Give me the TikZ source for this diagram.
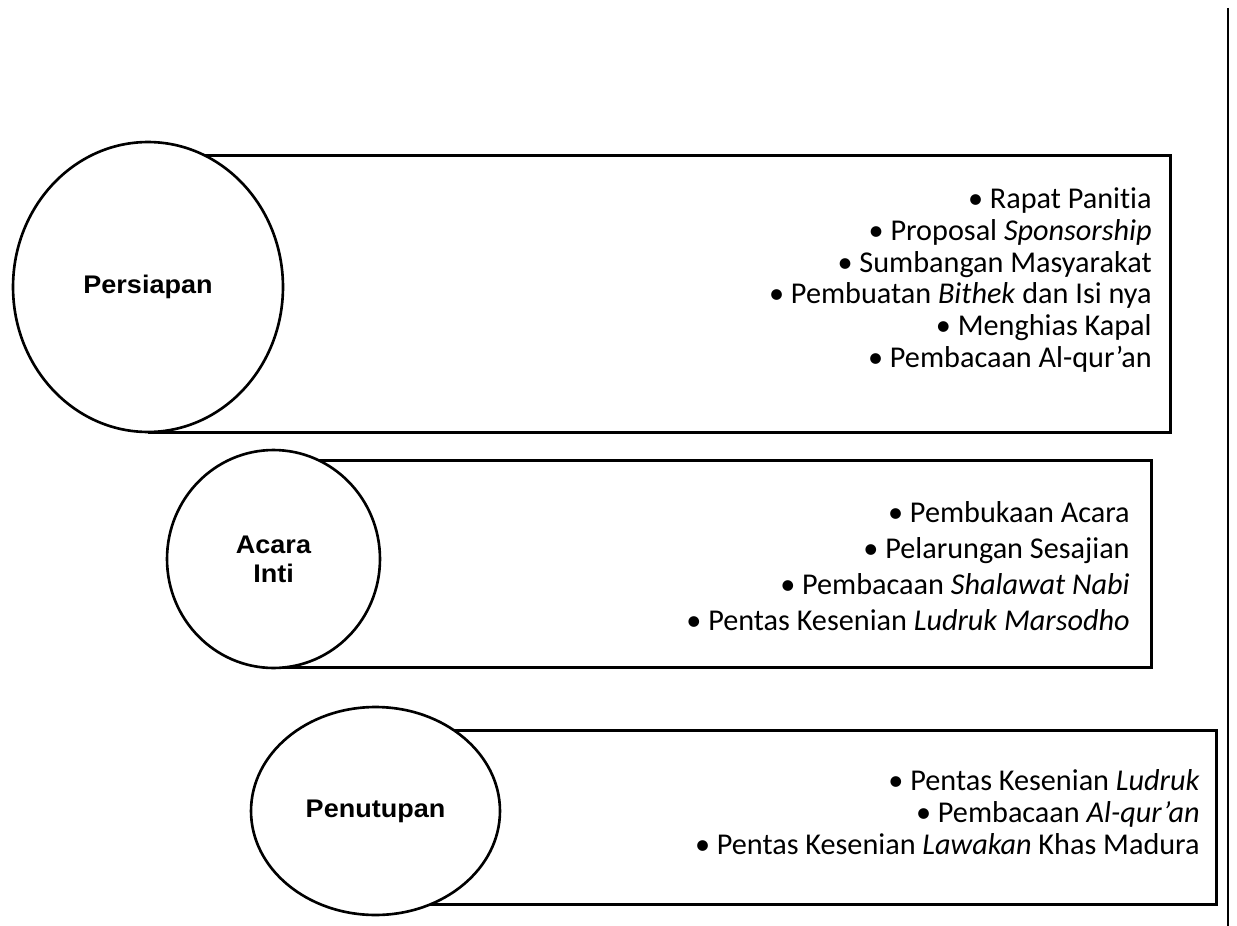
\documentclass[tikz,border=0pt]{standalone}
\usepackage{fontspec}
\setmainfont{Carlito}[Ligatures=NoCommon]
\newfontfamily\ringfont[FakeStretch=1.06]{Liberation Sans Bold}
\usetikzlibrary{shapes.geometric}
\newcommand{\phaseItem}[1]{\textbullet\ #1}

\begin{document}
\begin{tikzpicture}[x=0.02cm,y=-0.02cm,
  phasebox/.style={draw, line width=1.6pt, inner sep=0pt, anchor=north west},
  phasering/.style={ellipse, draw, fill=white, line width=1.5pt, inner sep=0pt, align=center, font=\ringfont\fontsize{14.5}{16.4}\selectfont},
  itemlist/.style={anchor=east, align=right, inner sep=0pt}]
\useasboundingbox[fill=white] (0,0) rectangle (1237,926);
% boxes first, rings on top of them
\node[phasebox, minimum width=20.42cm, minimum height=5.54cm] (boxPrep) at (148,154) {};
\node[phasebox, minimum width=17.54cm, minimum height=4.14cm] (boxMain) at (273,459) {};
\node[phasebox, minimum width=16.80cm, minimum height=3.48cm] (boxClose) at (375,729) {};
\node[phasering, minimum width=5.40cm, minimum height=5.80cm] (ringPrep) at (148,287) {Persiapan};
\node[phasering, minimum width=4.26cm, minimum height=4.36cm] (ringMain) at (273.5,559) {Acara\\Inti};
\node[phasering, minimum width=4.98cm, minimum height=4.16cm] (ringClose) at (375.5,811) {Penutupan};
% item lists
\node[itemlist, font=\fontsize{17.2}{18}\selectfont] (listPrep) at (1152,280) {\phaseItem{Rapat Panitia}\\
  \phaseItem{Proposal \textit{Sponsorship}}\\
  \phaseItem{Sumbangan Masyarakat}\\
  \phaseItem{Pembuatan \textit{Bithek} dan Isi nya}\\
  \phaseItem{Menghias Kapal}\\
  \phaseItem{Pembacaan Al-qur’an}};
\node[itemlist, font=\fontsize{17.2}{20.4}\selectfont] (listMain) at (1130,566) {\phaseItem{Pembukaan Acara}\\
  \phaseItem{Pelarungan Sesajian}\\
  \phaseItem{Pembacaan \textit{Shalawat Nabi}}\\
  \phaseItem{Pentas Kesenian \textit{Ludruk Marsodho}}};
\node[itemlist, font=\fontsize{17.2}{18.4}\selectfont] (listClose) at (1200,812) {\phaseItem{Pentas Kesenian \textit{Ludruk}}\\
  \phaseItem{Pembacaan \textit{Al-qur’an}}\\
  \phaseItem{Pentas Kesenian \textit{Lawakan} Khas Madura}};
% page edge on the right
\coordinate (edgeTop) at (1228,8);
\coordinate (edgeBot) at (1228,926);
\draw[line width=1.1pt] (edgeTop) -- (edgeBot);
\end{tikzpicture}
\end{document}
